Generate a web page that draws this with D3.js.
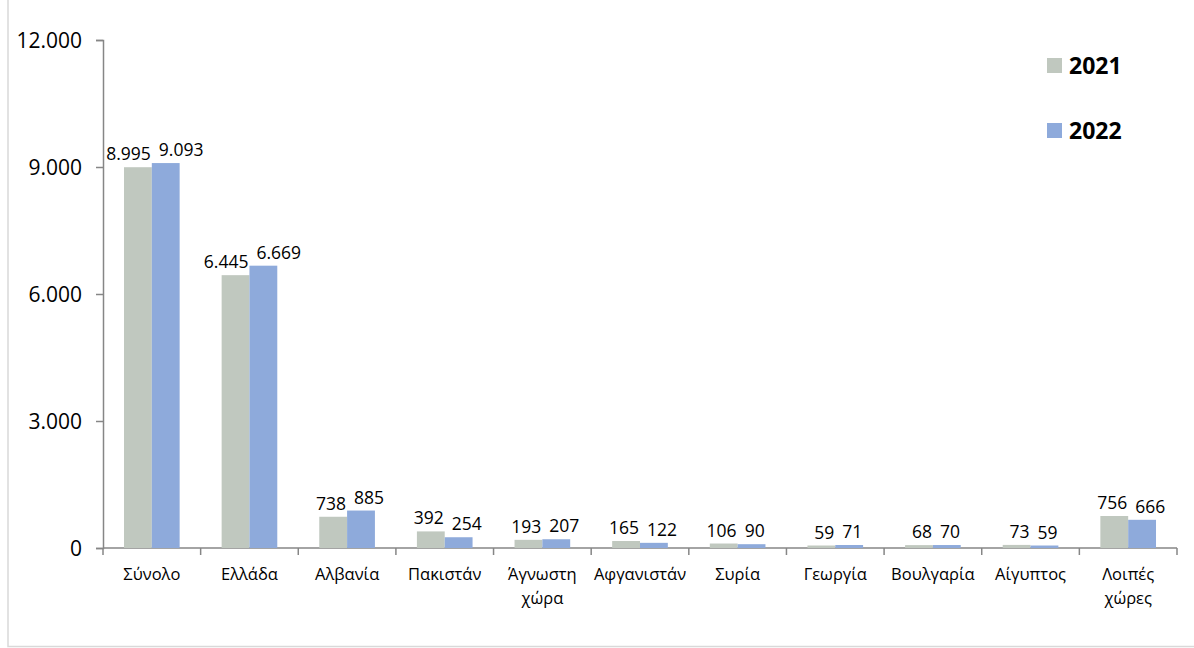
<!DOCTYPE html>
<html>
<head>
<meta charset="utf-8">
<script src="https://cdn.jsdelivr.net/npm/d3@7"></script>
<style>
  body { margin: 0; background: #fff; }
  text { font-family: 'Open Sans', sans-serif; fill: #000; }
</style>
</head>
<body>
<div id="chart"></div>
<script>
// values
const categories = ['Σύνολο', 'Ελλάδα', 'Αλβανία', 'Πακιστάν', 'Άγνωστη χώρα', 'Αφγανιστάν',
  'Συρία', 'Γεωργία', 'Βουλγαρία', 'Αίγυπτος', 'Λοιπές χώρες']
const values2021 = [8995, 6445, 738, 392, 193, 165, 106, 59, 68, 73, 756]
const values2022 = [9093, 6669, 885, 254, 207, 122, 90, 71, 70, 59, 666]
const seriesNames = ['2021', '2022']
const yTicks = [0, 3000, 6000, 9000, 12000]

const colors = { '2021': '#c0c8bf', '2022': '#8eaadb' }

const width = 1194
const height = 648
const margin = { top: 40, left: 103, right: 17, bottom: 100 }

const svg = d3.select('#chart')
  .append('svg')
  .attr('width', width)
  .attr('height', height)

// frame of the chart area
svg.append('rect')
  .attr('x', 8).attr('y', -5)
  .attr('width', width).attr('height', 651.5)
  .attr('fill', 'none')
  .attr('stroke', '#d9d9d9')
  .attr('stroke-width', 1.5)

const el = d3.formatLocale({ decimal: ',', thousands: '.', grouping: [3], currency: ['', '€'] })
const fmt = el.format(',d')

const x0 = d3.scaleBand()
  .domain(categories)
  .range([margin.left, width - margin.right])
  .padding(0)

const barW = x0.bandwidth() * 0.285
const x1 = d3.scaleBand()
  .domain(seriesNames)
  .range([x0.bandwidth() / 2 - barW, x0.bandwidth() / 2 + barW])

const y = d3.scaleLinear()
  .domain([0, 12000])
  .range([height - margin.bottom, margin.top])

// y axis
const yAxis = svg.append('g')
  .attr('transform', `translate(${margin.left},0)`)
  .call(d3.axisLeft(y).tickValues(yTicks).tickFormat(fmt).tickSize(7).tickPadding(14))
yAxis.select('.domain').attr('stroke', '#868686').attr('stroke-width', 1.5)
yAxis.selectAll('.tick line').attr('stroke', '#868686').attr('stroke-width', 1.5)
yAxis.selectAll('.tick text')
  .attr('font-size', 21)
  .attr('font-family', "'Open Sans', sans-serif")
  .attr('fill', '#000')
  .attr('dy', '0.36em')

// x axis line and ticks between categories
const xAxisG = svg.append('g')
svg.append('line')
  .attr('x1', margin.left).attr('x2', width - margin.right)
  .attr('y1', y(0)).attr('y2', y(0))
  .attr('stroke', '#868686').attr('stroke-width', 1.5)

const boundaries = categories.map(c => x0(c)).concat([x0(categories[categories.length - 1]) + x0.bandwidth()])
xAxisG.selectAll('line')
  .data(boundaries)
  .enter()
  .append('line')
  .attr('x1', d => d).attr('x2', d => d)
  .attr('y1', y(0)).attr('y2', y(0) + 7)
  .attr('stroke', '#868686').attr('stroke-width', 1.5)

// category labels (wrap on space for two-word names)
const catLabels = svg.append('g')
  .selectAll('text')
  .data(categories)
  .enter()
  .append('text')
  .attr('text-anchor', 'middle')
  .attr('font-size', 16.5)
  .attr('transform', d => `translate(${x0(d) + x0.bandwidth() / 2},${y(0) + 32})`)

catLabels.each(function(d) {
  const words = d.split(' ')
  words.forEach((w, i) => {
    d3.select(this).append('tspan')
      .attr('x', 0)
      .attr('y', i * 24)
      .text(w)
  })
})

// bars
const rows = categories.map((c, i) => ({ cat: c, vals: [
  { key: '2021', value: values2021[i] },
  { key: '2022', value: values2022[i] }
] }))

const groups = svg.append('g')
  .selectAll('g')
  .data(rows)
  .enter()
  .append('g')
  .attr('transform', d => `translate(${x0(d.cat)},0)`)

groups.selectAll('rect')
  .data(d => d.vals)
  .enter()
  .append('rect')
  .attr('x', d => x1(d.key))
  .attr('width', x1.bandwidth())
  .attr('y', d => y(d.value))
  .attr('height', d => y(0) - y(d.value))
  .attr('fill', d => colors[d.key])

// value labels: 2021 ends at the bar junction, 2022 starts just after it
groups.selectAll('.val-label')
  .data(d => d.vals)
  .enter()
  .append('text')
  .attr('class', 'val-label')
  .attr('font-size', 17.5)
  .attr('text-anchor', d => d.key === '2021' ? 'end' : 'start')
  .attr('x', d => d.key === '2021' ? x0.bandwidth() / 2 - 1 : x0.bandwidth() / 2 + 7)
  .attr('y', d => y(d.value) - 7)
  .text(d => fmt(d.value))

// legend
const legend = svg.append('g')
  .selectAll('g')
  .data(seriesNames)
  .enter()
  .append('g')
  .attr('transform', (d, i) => `translate(1047,${58 + i * 65})`)

legend.append('rect')
  .attr('width', 15).attr('height', 15)
  .attr('fill', d => colors[d])

legend.append('text')
  .attr('x', 22).attr('y', 15.5)
  .attr('font-size', 23)
  .attr('font-weight', 'bold')
  .text(d => d)
</script>
</body>
</html>
